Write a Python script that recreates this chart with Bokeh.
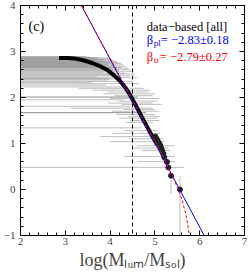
from bokeh.plotting import figure
from bokeh.models import LinearAxis, SingleIntervalTicker, Label, Span
from bokeh.embed import file_html
from bokeh.resources import INLINE

# ---------------- data ----------------
# cumulative distribution: dense part (log M, log N(>M))
curve_x = [2.86, 2.95, 3.05, 3.2, 3.4, 3.6, 3.8, 3.95, 4.1, 4.2, 4.3, 4.4, 4.5,
           4.6, 4.7, 4.8, 4.9, 5.0, 5.05]
curve_y = [2.86, 2.86, 2.86, 2.85, 2.81, 2.75, 2.67, 2.59, 2.47, 2.38, 2.27, 2.13,
           1.96, 1.78, 1.59, 1.41, 1.23, 1.06, 0.97]
# discrete tail points
tail_x = [5.56, 5.36, 5.30, 5.27, 5.21, 5.19, 5.16, 5.14, 5.12, 5.10, 5.07, 5.05, 5.03, 5.01]
tail_y = [0.0, 0.30, 0.48, 0.60, 0.70, 0.78, 0.85, 0.90, 0.95, 1.0, 1.04, 1.08, 1.11, 1.15]

# horizontal error bars (y, low, high)
hbar_y = [2.89, 2.88, 2.87, 2.86, 2.85, 2.84, 2.83, 2.82, 2.81, 2.80, 2.79, 2.78, 2.77,
          2.76, 2.75, 2.74, 2.73, 2.72, 2.71, 2.70, 2.69, 2.68, 2.67, 2.66, 2.65, 2.64,
          2.62, 2.61, 2.59, 2.57, 2.55, 2.53, 2.51, 2.49, 2.47, 2.45, 2.43, 2.41, 2.40,
          2.38, 2.35, 2.33, 2.30, 2.27, 2.23, 1.95, 1.81, 1.34, 0.48,
          2.20, 2.16, 2.12, 2.08, 2.04, 1.98, 1.92, 1.88, 1.85, 1.77, 1.74, 1.70, 1.63,
          1.59, 1.55, 1.50, 1.46, 1.28, 1.22, 1.15, 1.10, 1.04, 0.95, 0.90, 0.85, 0.72,
          0.61]
hbar_lo = [1.0] * 49 + [
          3.30, 3.60, 3.95, 3.85, 4.10, 4.00, 4.20, 3.95, 4.25, 3.12, 4.30, 4.05, 4.15,
          4.40, 4.20, 4.45, 4.35, 4.30, 4.05, 3.78, 4.45, 4.00, 4.60, 4.50, 4.70, 4.32,
          4.61]
hbar_hi = [3.45, 3.55, 3.75, 3.95, 3.65, 4.00, 3.85, 4.05, 3.70, 4.10, 3.90, 4.15, 3.80,
          4.20, 4.00, 4.25, 3.75, 3.95, 4.30, 4.10, 3.85, 4.35, 3.90, 4.15, 4.25, 4.40,
          4.05, 4.45, 4.20, 4.50, 3.85, 4.35, 4.55, 4.10, 4.45, 3.70, 4.60, 4.00, 4.25,
          3.95, 4.50, 3.60, 4.65, 3.90, 4.40, 4.30, 4.45, 4.72, 5.66,
          4.75, 4.90, 4.85, 5.00, 4.95, 5.10, 5.05, 4.95, 5.15, 4.95, 5.00, 5.10, 5.00,
          5.12, 5.05, 5.10, 4.95, 5.05, 5.12, 5.05, 5.20, 5.22, 5.44, 5.30, 5.35, 5.45,
          5.46]
# darker error bars
dark_y = [2.01, 1.67]
dark_lo = [1.0, 1.0]
dark_hi = [4.62, 4.80]
# vertical error bars of the last points
vbar_x = [5.56, 5.36]
vbar_lo = [-1.5, -0.09]
vbar_hi = [0.30, 0.33]

# fits
pl_x = [3.36, 6.10]
pl_y = [4.0, -1.0]
tr_x = [3.36, 4.0, 4.5, 5.0, 5.2, 5.3, 5.4, 5.5, 5.6, 5.7, 5.77]
tr_y = [4.0, 2.85, 1.95, 1.04, 0.68, 0.47, 0.28, 0.05, -0.21, -0.57, -1.0]
m_lim = 4.5

beta_pl = "−2.83±0.18"
beta_tr = "−2.79±0.27"
x_title = "log(Mₗᵤₘ/Mₛₒₗ)"

FONT = "Liberation Serif"

p = figure(width=250, height=274, x_range=(2, 7), y_range=(-1, 4),
           output_backend="svg", toolbar_location=None,
           min_border_left=16, min_border_right=6, min_border_top=5,
           min_border_bottom=39)
p.grid.visible = False
p.outline_line_color = "black"
p.background_fill_color = "white"
p.border_fill_color = "white"

def style(ax, labels=True, standoff=3):
    ax.ticker = SingleIntervalTicker(interval=1, num_minor_ticks=5)
    ax.axis_line_color = "black"
    ax.axis_line_width = 1
    ax.major_tick_in = 5
    ax.major_tick_out = 0
    ax.minor_tick_in = 3
    ax.minor_tick_out = 0
    ax.major_tick_line_color = "black"
    ax.minor_tick_line_color = "black"
    ax.major_label_text_font = FONT
    ax.major_label_text_font_size = "11px"
    ax.major_label_standoff = standoff
    ax.major_label_overrides = {-1: "−1"}
    if not labels:
        ax.major_label_text_color = None

style(p.xaxis[0], standoff=2)
style(p.yaxis[0], standoff=5)
xa = p.xaxis[0]
xa.axis_label = x_title
xa.axis_label_text_font = FONT
xa.axis_label_text_font_size = "18px"
xa.axis_label_text_font_style = "normal"
xa.axis_label_standoff = 2

top = LinearAxis()
right = LinearAxis()
style(top, False)
style(right, False)
p.add_layout(top, "above")
p.add_layout(right, "right")

# error bars
p.segment(x0=hbar_lo, y0=hbar_y, x1=hbar_hi, y1=hbar_y,
          line_color="#808080", line_alpha=0.5, line_width=1)
p.segment(x0=dark_lo, y0=dark_y, x1=dark_hi, y1=dark_y,
          line_color="#8c8c8c", line_width=1)
p.segment(x0=vbar_x, y0=vbar_lo, x1=vbar_x, y1=vbar_hi,
          line_color="#bbbbbb", line_width=1)

# data
p.line(curve_x, curve_y, line_color="black", line_width=4)
p.scatter(tail_x, tail_y, size=5, fill_color="#222222", line_color="#222222")

# completeness limit
p.add_layout(Span(location=m_lim, dimension="height", line_color="black",
                  line_dash="4 3", line_width=1))

# fits
p.line(pl_x, pl_y, line_color="blue", line_width=1)
p.line(tr_x, tr_y, line_color="red", line_width=1, line_dash="3 2")


def lab(x, y, text, size, color="black", dx=0, dy=0):
    p.add_layout(Label(x=x, y=y, x_offset=dx, y_offset=dy, text=text,
                       text_font=FONT, text_font_size=size, text_color=color,
                       text_align="left", text_baseline="alphabetic"))

lab(2.18, 3.54, "(c)", "14px")
lab(4.82, 3.53, "data−based [all]", "12.5px")
lab(4.82, 3.24, "β", "12.5px", "blue")
lab(4.82, 3.24, "pl", "9px", "blue", dx=7, dy=-3)
lab(4.82, 3.24, " = " + beta_pl, "12.5px", "blue", dx=14)
lab(4.82, 2.88, "β", "12.5px", "red")
lab(4.82, 2.88, "tr", "9px", "red", dx=7, dy=-3)
lab(4.82, 2.88, " = " + beta_tr, "12.5px", "red", dx=13)

open("out.html", "w").write(file_html(p, INLINE))
